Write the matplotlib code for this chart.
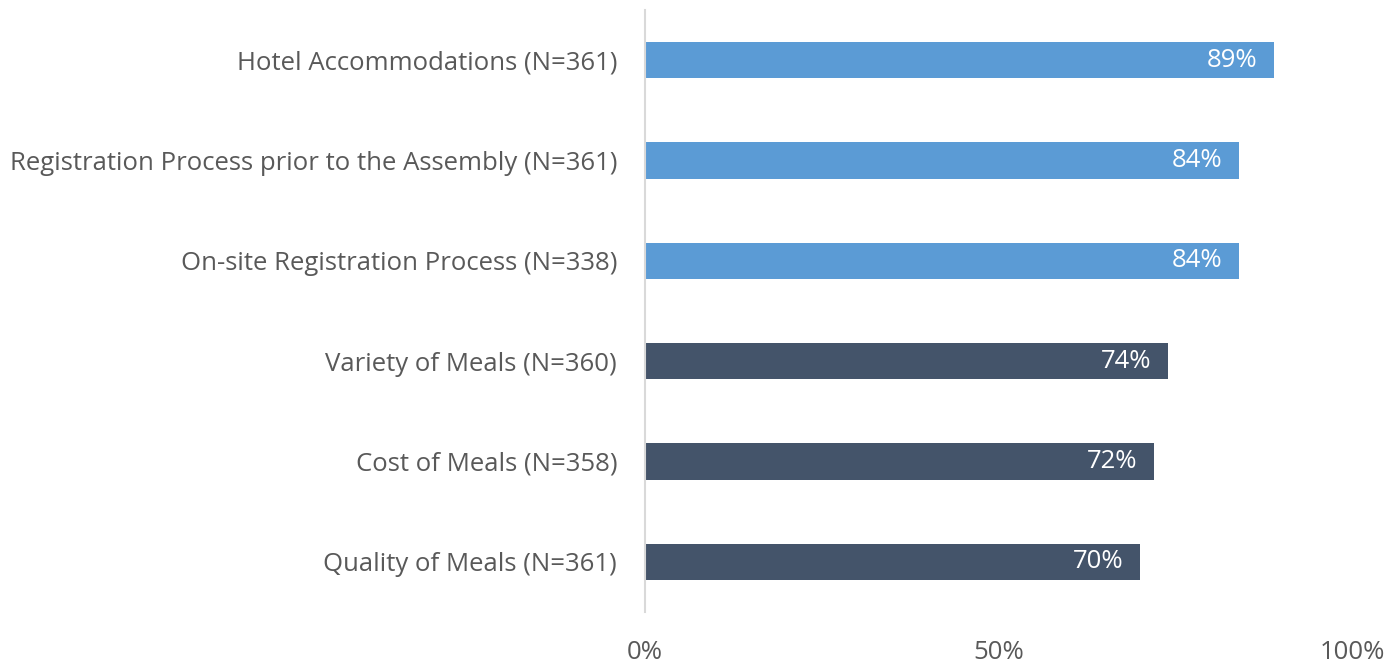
import matplotlib
matplotlib.use("Agg")
import matplotlib.pyplot as plt

categories = [
    "Hotel Accommodations (N=361)",
    "Registration Process prior to the Assembly (N=361)",
    "On-site Registration Process (N=338)",
    "Variety of Meals (N=360)",
    "Cost of Meals (N=358)",
    "Quality of Meals (N=361)",
]
values = [89, 84, 84, 74, 72, 70]
groups = ["logistics", "logistics", "logistics", "meals", "meals", "meals"]
group_colors = {"logistics": "#5B9BD5", "meals": "#44546A"}
xticks = [0, 50, 100]
xtick_labels = ["0%", "50%", "100%"]

plt.rcParams['font.family'] = ['Open Sans', 'DejaVu Sans']
text_color = "#595959"
fs = 18.5

fig = plt.figure(figsize=(14, 6.65), dpi=100)
ax = fig.add_axes([0.4607, 0.0797, 0.505, 0.9053])

ypos = list(range(len(categories)))
colors = [group_colors[g] for g in groups]
bars = ax.barh(ypos, values, height=0.36, color=colors)
ax.set_ylim(len(categories) - 0.5, -0.5)
ax.set_xlim(0, 100)

for b, v in zip(bars, values):
    ax.annotate(f"{v}%", xy=(b.get_width(), b.get_y() + b.get_height() / 2),
                xytext=(-12, 0), textcoords="offset points",
                ha="right", va="center", color="white", fontsize=fs)

ax.set_yticks(ypos)
ax.set_yticklabels(categories, fontsize=fs, color=text_color)
ax.set_xticks(xticks)
ax.set_xticklabels(xtick_labels, fontsize=fs, color=text_color)
ax.tick_params(axis="both", length=0)
ax.tick_params(axis="y", pad=20)
ax.tick_params(axis="x", pad=20)

for s in ["top", "right", "bottom"]:
    ax.spines[s].set_visible(False)
ax.spines["left"].set_color("#D9D9D9")
ax.spines["left"].set_linewidth(1.5)

fig.savefig("out.png", dpi=100)
